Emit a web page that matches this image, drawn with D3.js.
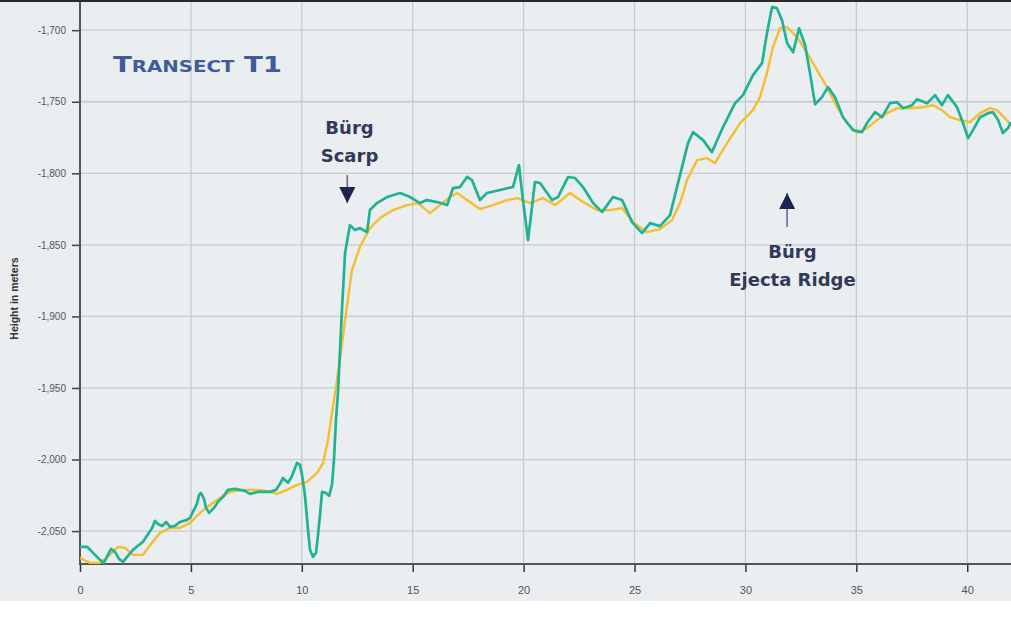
<!DOCTYPE html>
<html>
<head>
<meta charset="utf-8">
<script src="https://cdn.jsdelivr.net/npm/d3@7"></script>
<style>
  body { margin: 0; background: #ffffff; }
  svg { display: block; }
</style>
</head>
<body>
<svg id="chart" width="1011" height="620"></svg>
<script>
// distance along transect (km) and height (m)
const greenX = [0, 0.32, 0.59, 0.90, 1.08, 1.26, 1.40, 1.58, 1.76, 1.94, 2.16, 2.39, 2.61, 2.84, 3.02, 3.25, 3.38, 3.52, 3.70, 3.88,
    4.06, 4.28, 4.51, 4.82, 4.96, 5.09, 5.27, 5.37, 5.45, 5.59, 5.68, 5.82, 6.04, 6.22, 6.45, 6.67, 6.99, 7.44, 7.66, 8.03,
    8.57, 8.84, 9.02, 9.15, 9.38, 9.56, 9.78, 9.92, 10.01, 10.14, 10.28, 10.37, 10.50, 10.64, 10.73, 10.82, 10.91, 11.09, 11.23, 11.36,
    11.45, 11.54, 11.63, 11.81, 11.95, 12.17, 12.40, 12.62, 12.94, 13.07, 13.39, 13.84, 14.43, 14.88, 15.33, 15.64, 16.10, 16.55, 16.82, 17.13,
    17.45, 17.67, 18.03, 18.35, 18.94, 19.52, 19.79, 19.97, 20.20, 20.51, 20.74, 21.28, 21.55, 22.00, 22.32, 22.68, 23.13, 23.54, 24.03, 24.44,
    24.89, 25.34, 25.70, 26.15, 26.60, 27.05, 27.41, 27.64, 28.09, 28.49, 28.99, 29.53, 29.89, 30.34, 30.75, 30.97, 31.20, 31.42, 31.65, 31.88,
    32.15, 32.42, 32.69, 32.91, 33.14, 33.45, 33.72, 34.04, 34.40, 34.85, 35.26, 35.48, 35.84, 36.16, 36.52, 36.84, 37.11, 37.51, 37.74, 38.19,
    38.55, 38.86, 39.13, 39.54, 39.81, 40.04, 40.26, 40.58, 40.94, 41.16, 41.39, 41.61, 41.84, 41.97];
const greenY = [-2061.0, -2061.0, -2065.2, -2070.1, -2072.2, -2066.6, -2062.4, -2064.5, -2069.4, -2071.5, -2067.3, -2063.1, -2060.3, -2057.5, -2053.3, -2047.8, -2042.9, -2045.0, -2046.4, -2043.6,
    -2047.1, -2046.4, -2043.6, -2042.2, -2040.8, -2036.6, -2031.0, -2024.7, -2023.3, -2027.5, -2033.8, -2037.3, -2033.8, -2029.6, -2026.1, -2021.2, -2020.5, -2021.9, -2024.0, -2022.6,
    -2022.6, -2021.2, -2017.0, -2012.8, -2016.3, -2011.4, -2002.4, -2003.8, -2010.7, -2024.7, -2049.2, -2063.1, -2068.0, -2065.2, -2052.6, -2038.7, -2022.6, -2023.3, -2025.4, -2017.7,
    -2000.3, -1972.3, -1953.5, -1895.5, -1855.7, -1836.2, -1839.7, -1838.3, -1841.1, -1825.7, -1820.8, -1816.6, -1813.8, -1816.6, -1820.8, -1818.7, -1820.1, -1822.2, -1810.3, -1809.6,
    -1802.6, -1804.7, -1818.7, -1813.8, -1811.7, -1809.6, -1794.3, -1818.7, -1846.6, -1806.1, -1806.8, -1818.7, -1816.6, -1802.6, -1803.3, -1809.6, -1820.8, -1827.1, -1816.6, -1818.7,
    -1834.1, -1841.8, -1834.8, -1836.9, -1829.2, -1801.3, -1778.9, -1771.2, -1776.8, -1785.2, -1767.7, -1751.0, -1745.4, -1731.4, -1723.0, -1702.1, -1683.9, -1684.6, -1693.0, -1709.1,
    -1715.4, -1698.6, -1710.5, -1730.0, -1751.7, -1746.8, -1739.8, -1746.8, -1760.8, -1769.8, -1771.2, -1764.9, -1757.3, -1760.8, -1751.0, -1750.3, -1754.5, -1752.4, -1748.2, -1751.0,
    -1745.4, -1752.4, -1745.4, -1753.8, -1764.9, -1775.4, -1769.8, -1760.8, -1758.0, -1757.3, -1762.8, -1771.9, -1768.4, -1764.2];

const yellowX = [0, 0.45, 0.90, 1.35, 1.71, 2.03, 2.39, 2.84, 3.25, 3.61, 4.06, 4.51, 4.96, 5.41, 5.86, 6.31, 6.76, 7.35, 7.98, 8.43,
    8.88, 9.33, 9.78, 10.23, 10.69, 10.96, 11.18, 11.50, 11.72, 11.95, 12.26, 12.62, 13.07, 13.53, 14.11, 14.74, 15.24, 15.78, 16.23, 16.68,
    17.00, 17.45, 18.03, 18.62, 19.25, 19.75, 20.29, 20.87, 21.42, 22.09, 22.68, 23.31, 23.90, 24.44, 24.93, 25.56, 26.15, 26.69, 27.05, 27.37,
    27.82, 28.27, 28.63, 29.17, 29.76, 30.34, 30.66, 30.97, 31.24, 31.56, 31.88, 32.33, 32.78, 33.23, 33.68, 34.13, 34.58, 35.03, 35.48, 35.93,
    36.38, 36.84, 37.42, 38.01, 38.46, 38.86, 39.22, 39.67, 40.13, 40.58, 41.03, 41.34, 41.70, 41.97];
const yellowY = [-2068.7, -2072.2, -2072.2, -2066.6, -2061.0, -2061.7, -2066.6, -2066.6, -2058.2, -2051.2, -2047.8, -2047.8, -2044.3, -2037.3, -2031.7, -2026.8, -2022.6, -2021.2, -2021.2, -2021.9,
    -2024.0, -2021.2, -2017.7, -2015.6, -2009.3, -2002.4, -1986.3, -1953.5, -1930.4, -1902.5, -1867.6, -1851.5, -1838.3, -1831.3, -1825.7, -1822.2, -1820.8, -1827.8, -1822.2, -1816.6,
    -1813.8, -1818.7, -1825.0, -1822.2, -1818.7, -1817.3, -1820.8, -1817.3, -1822.2, -1813.8, -1820.1, -1825.7, -1825.7, -1824.3, -1834.1, -1841.1, -1839.0, -1832.7, -1820.8, -1804.7,
    -1790.8, -1789.4, -1792.9, -1778.9, -1764.9, -1755.9, -1746.8, -1730.0, -1711.9, -1698.6, -1697.9, -1704.9, -1716.1, -1727.9, -1739.8, -1753.8, -1764.9, -1771.9, -1768.4, -1762.8,
    -1758.0, -1754.5, -1754.5, -1753.8, -1752.4, -1755.9, -1760.8, -1762.8, -1764.2, -1758.0, -1754.5, -1755.9, -1761.5, -1766.3];

const xTicks = [0, 5, 10, 15, 20, 25, 30, 35, 40];
const yTicks = [-1700, -1750, -1800, -1850, -1900, -1950, -2000, -2050];

// annotations: label lines, arrow x, arrow tail / tip heights
const annoLines = [['Bürg', 'Scarp'], ['Bürg', 'Ejecta Ridge']];
const annoX = [12.05, 31.88];
const annoTail = [-1801.3, -1837.6];
const annoTip = [-1820.8, -1813.8];
const annoTextX = [12.15, 32.12];
const annoTextY = [-1772.6, -1859.2];

const width = 1011, height = 620;
const margin = { top: 3, right: 0, bottom: 56, left: 80 };
const plotBottom = height - margin.bottom; // 564

const svg = d3.select('#chart');

svg.append('rect')
    .attr('x', 0).attr('y', 0)
    .attr('width', width).attr('height', 601)
    .attr('fill', '#eaeef0');
svg.append('rect')
    .attr('x', 0).attr('y', 0)
    .attr('width', width).attr('height', 2)
    .attr('fill', '#2a2a2a');

const xScale = d3.scaleLinear()
    .domain([0, 42])
    .range([margin.left, 1011.6]);

const yScale = d3.scaleLinear()
    .domain([-2073, -1681])
    .range([plotBottom, margin.top]);

// grid
svg.append('g')
    .selectAll('line')
    .data(xTicks.slice(1))
    .join('line')
    .attr('x1', d => xScale(d)).attr('x2', d => xScale(d))
    .attr('y1', 2).attr('y2', plotBottom)
    .attr('stroke', '#c5cacd')
    .attr('stroke-width', 1.3);

svg.append('g')
    .selectAll('line')
    .data(yTicks)
    .join('line')
    .attr('x1', margin.left).attr('x2', width)
    .attr('y1', d => yScale(d)).attr('y2', d => yScale(d))
    .attr('stroke', '#c5cacd')
    .attr('stroke-width', 1.3);

// axes
const yAxis = svg.append('g')
    .attr('transform', `translate(${margin.left},0)`)
    .call(d3.axisLeft(yScale).tickValues(yTicks).tickSize(8).tickPadding(6).tickFormat(d3.format(',')));
yAxis.select('.domain').remove();
yAxis.selectAll('.tick line').attr('stroke', '#444').attr('stroke-width', 1.5);
yAxis.selectAll('.tick text')
    .attr('fill', '#555')
    .style('font-family', 'Liberation Sans, Arial, sans-serif')
    .style('font-size', '10px')
    .text(d => d3.format(',')(d).replace('−', '-'));

const xAxis = svg.append('g')
    .attr('transform', `translate(0,${plotBottom})`)
    .call(d3.axisBottom(xScale).tickValues(xTicks).tickSize(8).tickPadding(14));
xAxis.select('.domain').remove();
xAxis.selectAll('.tick line').attr('stroke', '#333').attr('stroke-width', 1.5);
xAxis.selectAll('.tick text')
    .attr('fill', '#555')
    .style('font-family', 'Liberation Sans, Arial, sans-serif')
    .style('font-size', '11px');

svg.append('line')
    .attr('x1', margin.left).attr('x2', margin.left)
    .attr('y1', 2).attr('y2', plotBottom + 1)
    .attr('stroke', '#555').attr('stroke-width', 2);
svg.append('line')
    .attr('x1', margin.left).attr('x2', width)
    .attr('y1', plotBottom).attr('y2', plotBottom)
    .attr('stroke', '#555').attr('stroke-width', 2);

svg.append('text')
    .attr('transform', `translate(18,${(plotBottom + margin.top) / 2 + 15}) rotate(-90)`)
    .attr('text-anchor', 'middle')
    .attr('fill', '#333')
    .style('font-family', 'Liberation Sans, Arial, sans-serif')
    .style('font-size', '10.5px')
    .style('font-weight', 'bold')
    .text('Height in meters');

// profile lines
svg.append('clipPath').attr('id', 'plotClip')
    .append('rect')
    .attr('x', margin.left).attr('y', 2)
    .attr('width', width - margin.left).attr('height', plotBottom - 2);

const line = d3.line()
    .x(d => xScale(d[0]))
    .y(d => yScale(d[1]))
    .curve(d3.curveLinear);

const lines = svg.append('g').attr('clip-path', 'url(#plotClip)');

lines.append('path')
    .datum(d3.zip(yellowX, yellowY))
    .attr('fill', 'none')
    .attr('stroke', '#f4be2e')
    .attr('stroke-width', 2.4)
    .attr('stroke-linejoin', 'round')
    .attr('d', line);

lines.append('path')
    .datum(d3.zip(greenX, greenY))
    .attr('fill', 'none')
    .attr('stroke', '#20b293')
    .attr('stroke-width', 2.7)
    .attr('stroke-linejoin', 'round')
    .attr('d', line);

// title
svg.append('text')
    .attr('x', 113)
    .attr('y', 72)
    .attr('fill', '#3f5b99')
    .style('font-family', 'DejaVu Sans, sans-serif')
    .style('font-size', '21px')
    .style('font-weight', 'bold')
    .style('font-variant', 'small-caps')
    .attr('textLength', 169)
    .attr('lengthAdjust', 'spacingAndGlyphs')
    .text('Transect T1');

// annotations
const defs = svg.append('defs');
defs.append('marker')
    .attr('id', 'arrowHead')
    .attr('viewBox', '0 0 10 10')
    .attr('refX', 10).attr('refY', 5)
    .attr('markerWidth', 16).attr('markerHeight', 16)
    .attr('markerUnits', 'userSpaceOnUse')
    .attr('orient', 'auto')
    .append('path')
    .attr('d', 'M0,0 L10,5 L0,10 Z')
    .attr('fill', '#1c2550');

annoLines.forEach((ls, i) => {
    svg.append('line')
        .attr('x1', xScale(annoX[i])).attr('x2', xScale(annoX[i]))
        .attr('y1', yScale(annoTail[i])).attr('y2', yScale(annoTip[i]))
        .attr('stroke', '#6a6f86')
        .attr('stroke-width', 1.6)
        .attr('marker-end', 'url(#arrowHead)');

    const t = svg.append('text')
        .attr('x', xScale(annoTextX[i]))
        .attr('y', yScale(annoTextY[i]))
        .attr('text-anchor', 'middle')
        .attr('fill', '#33395a')
        .style('font-family', 'DejaVu Sans, sans-serif')
        .style('font-size', '18px')
        .style('font-weight', 'bold');
    ls.forEach((s, j) => {
        t.append('tspan')
            .attr('x', xScale(annoTextX[i]))
            .attr('dy', j === 0 ? 0 : 28)
            .text(s);
    });
});
</script>
</body>
</html>
